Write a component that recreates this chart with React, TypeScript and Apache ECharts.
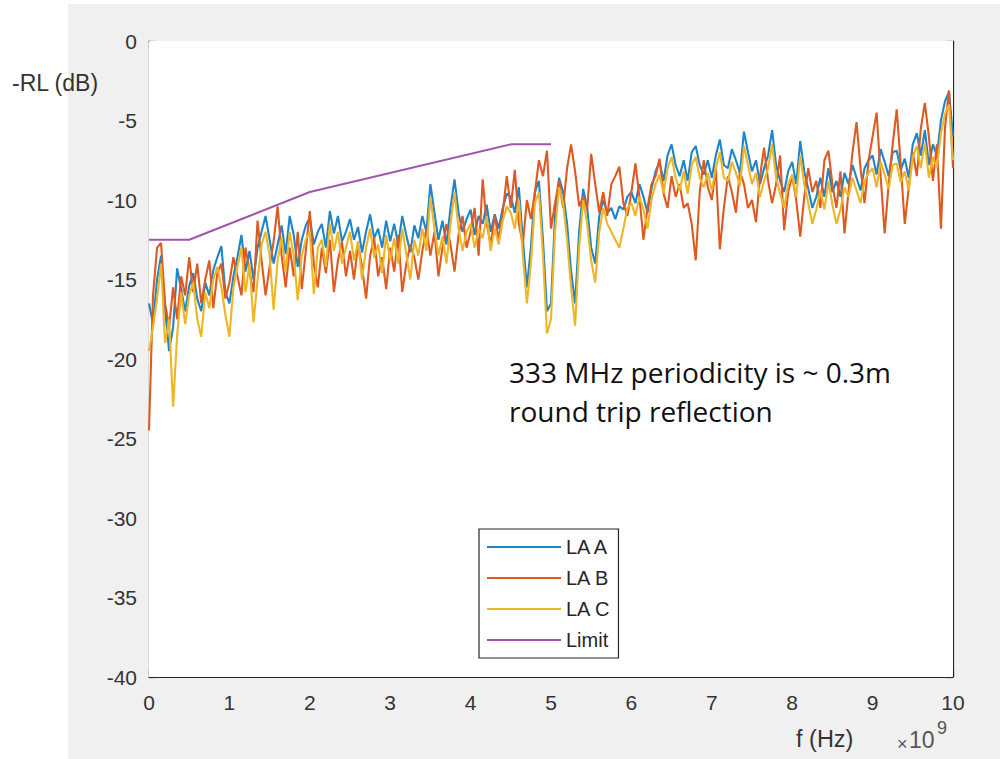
import React, { useEffect, useRef } from "react";
import * as echarts from "echarts";

// Frequency sweep grid (GHz, axis shows ×10^9 Hz)
const FREQ_STEP_GHZ = 0.05;

// -RL (dB) for each cable, one value per sweep point (0 … 10 GHz)
const LA_A = [
  -16.5, -17.8, -15.0, -13.5, -16.8, -19.5, -18.0, -14.3, -15.6, -17.0,
  -15.4, -14.6, -16.2, -17.0, -15.2, -16.0, -14.4, -13.6, -12.9, -15.8,
  -16.5, -14.8, -13.6, -12.2, -14.5, -13.2, -15.0, -13.0, -12.0, -11.0,
  -12.5, -14.0, -12.8, -11.6, -13.4, -11.0, -12.2, -14.2, -12.5, -11.6,
  -11.1, -12.8, -12.0, -11.5, -13.0, -10.7, -12.1, -11.0, -12.6, -12.0,
  -11.2, -12.5, -11.7, -13.3, -12.0, -10.9, -12.4, -11.8, -13.0, -11.3,
  -12.6, -11.5, -12.8, -11.0, -12.2, -13.3, -11.6, -12.4, -11.0, -12.0,
  -9.0, -10.8, -12.5, -11.3, -12.8, -10.5, -8.7, -10.8, -12.0, -11.2,
  -10.6, -12.2, -11.0, -11.5, -10.3, -12.0, -10.9, -11.8, -10.5, -9.6,
  -9.8, -10.8, -9.2, -12.5, -15.5, -13.0, -9.5, -8.8, -12.5, -17.0,
  -16.5, -11.0, -8.6, -9.5, -11.5, -14.5, -16.5, -12.0, -9.3, -10.5,
  -13.0, -14.0, -11.0, -10.0, -10.8, -10.5, -11.2, -10.4, -10.6, -9.8,
  -9.5, -10.2, -9.0, -9.8, -10.8, -9.3, -8.2, -7.6, -8.8, -7.2,
  -6.5, -7.8, -8.5, -7.5, -8.8, -7.0, -6.6, -7.8, -8.4, -7.5,
  -8.6, -7.2, -6.2, -7.8, -8.0, -6.8, -7.5, -8.3, -5.7, -7.0,
  -8.2, -7.5, -9.0, -8.0, -7.2, -5.6, -7.8, -8.8, -9.5, -8.2,
  -7.6, -9.0, -6.3, -8.2, -9.3, -10.5, -9.8, -8.6, -9.8, -8.0,
  -9.5, -8.8, -9.8, -8.3, -9.0, -7.8, -8.6, -9.4, -8.0, -7.5,
  -7.2, -8.4, -6.8, -7.6, -8.5, -7.0, -6.9, -8.1, -7.4, -8.6,
  -6.5, -5.8, -7.2, -5.6, -7.8, -6.5, -7.2, -5.0, -3.8, -3.2,
  -6.0,
];

const LA_B = [
  -24.5, -16.0, -13.0, -12.7, -16.5, -18.0, -15.5, -17.5, -14.8, -16.0,
  -13.6, -15.8, -14.0, -16.5, -15.0, -13.8, -16.8, -14.6, -14.0, -16.2,
  -15.2, -13.6, -14.8, -16.0, -13.0, -14.5, -15.8, -11.3, -13.8, -16.0,
  -14.2, -12.6, -10.4, -13.5, -15.5, -13.0, -14.8, -12.0, -15.6, -13.2,
  -10.7, -14.0, -15.5, -13.0, -14.6, -12.5, -15.8, -13.8, -12.6, -14.8,
  -13.2, -15.0, -12.8, -14.2, -16.2, -13.5, -12.4, -14.8, -13.6, -15.6,
  -13.0, -14.5, -12.2, -15.8, -14.0, -12.8, -13.6, -15.0, -13.2, -11.8,
  -13.5, -12.0, -14.8, -13.0, -11.5, -12.8, -14.5, -12.2, -11.0, -13.0,
  -12.0, -10.5, -13.5, -8.7, -11.5, -12.8, -11.0, -12.5, -10.8, -8.5,
  -10.5, -8.1, -11.5, -12.8, -10.0, -11.2, -9.5, -7.5, -8.5, -6.9,
  -11.8, -10.2, -8.8, -10.5, -8.0, -6.5, -8.2, -10.4, -9.8, -10.6,
  -7.1, -9.0, -10.8, -9.5, -11.0, -9.0, -8.5, -7.9, -10.2, -11.0,
  -9.5, -7.7, -9.8, -12.5, -10.5, -9.0, -8.5, -7.4, -9.6, -10.5,
  -8.5, -9.8, -9.0, -10.5, -10.2, -11.5, -13.8, -9.5, -7.5, -9.2,
  -10.0, -8.0, -13.1, -10.5, -8.5, -9.5, -10.8, -8.2, -9.0, -10.5,
  -10.0, -11.4, -8.5, -6.7, -8.8, -10.2, -9.0, -7.2, -11.9, -9.5,
  -8.5, -10.0, -12.3, -9.8, -8.0, -9.5, -8.8, -10.5, -7.5, -6.9,
  -9.0, -10.5, -8.2, -12.1, -9.5, -7.0, -5.1, -8.0, -10.2, -7.5,
  -6.0, -4.5, -8.5, -12.1, -9.0, -6.5, -4.3, -7.8, -11.5, -9.2,
  -7.0, -8.5, -5.5, -3.9, -6.0, -8.8, -6.5, -11.8, -5.5, -3.1,
  -8.0,
];

const LA_C = [
  -19.5, -18.0, -16.2, -14.0, -19.0, -17.5, -23.0, -18.5, -15.8, -17.8,
  -16.0, -15.2, -17.5, -18.6, -15.8, -16.8, -15.0, -14.2, -15.5, -17.2,
  -18.6, -15.5, -14.2, -13.0, -15.8, -14.0, -17.7, -15.0, -12.8, -12.0,
  -13.5, -16.9, -13.8, -12.4, -14.5, -12.0, -13.5, -16.3, -13.5, -12.5,
  -12.0, -15.9, -13.0, -12.5, -14.2, -11.5, -13.2, -12.0, -14.0, -13.0,
  -12.0, -13.8, -12.6, -15.0, -13.0, -11.8, -13.6, -12.8, -14.6, -12.2,
  -13.8, -12.4, -14.0, -11.8, -13.4, -15.0, -12.5, -13.5, -11.8, -13.2,
  -9.8, -11.8, -13.5, -12.3, -14.0, -11.5, -9.5, -11.8, -13.2, -12.0,
  -11.5, -13.0, -11.8, -12.4, -11.0, -13.2, -11.8, -12.8, -11.3, -10.4,
  -10.8, -11.8, -10.0, -13.5, -16.5, -14.0, -10.2, -9.5, -13.5, -18.4,
  -17.5, -12.0, -9.2, -10.2, -12.5, -15.5, -17.9, -13.0, -10.0, -11.5,
  -13.8, -15.2, -12.0, -10.5, -11.5, -12.0, -12.5, -13.0, -11.8, -10.5,
  -10.2, -11.0, -9.8, -10.6, -11.8, -10.0, -9.0, -8.4, -9.6, -8.0,
  -7.3, -8.6, -9.4, -8.2, -9.6, -7.8, -7.3, -8.6, -9.2, -8.3,
  -9.4, -8.0, -7.0, -8.6, -8.8, -7.6, -8.3, -9.1, -6.6, -7.8,
  -9.0, -8.3, -9.8, -8.8, -8.0, -6.5, -8.6, -9.6, -10.5, -9.0,
  -8.4, -9.8, -7.2, -9.0, -10.2, -11.5, -10.6, -9.4, -10.6, -8.8,
  -10.3, -11.5, -10.6, -9.2, -9.8, -8.6, -9.4, -10.2, -8.8, -8.3,
  -8.0, -9.2, -7.6, -8.4, -9.3, -7.8, -7.7, -8.9, -8.2, -9.4,
  -7.3, -6.6, -8.0, -6.4, -8.6, -7.3, -8.0, -5.8, -4.6, -4.0,
  -7.5,
];

// Limit mask
const LIMIT_F = [0, 0.5, 2, 4.5, 5];
const LIMIT_DB = [-12.5, -12.5, -9.5, -6.5, -6.5];

const SERIES_NAMES = ["LA A", "LA B", "LA C", "Limit"];
const SERIES_COLORS = ["#1f84c8", "#de5a22", "#eeb526", "#a055ad"];

const X_MIN = 0;
const X_MAX = 10;
const X_INTERVAL = 1;
const Y_MIN = -40;
const Y_MAX = 0;
const Y_INTERVAL = 5;

const Y_LABEL = "-RL (dB)";
const X_LABEL = "f (Hz)";
const X_EXP_TIMES = "×";
const X_EXP_BASE = "10";
const X_EXP = "9";
const NOTE_LINES = ["333 MHz periodicity is ~ 0.3m", "round trip reflection"];

const AX_COLOR = "#262626";
const FONT = "'Liberation Sans', Arial, sans-serif";

function toPairs(vals: number[]) {
  return vals.map((v, i) => [Number((i * FREQ_STEP_GHZ).toFixed(2)), v]);
}

export default function App() {
  const ref = useRef<HTMLDivElement>(null);

  useEffect(() => {
    if (!ref.current) return;
    const chart = echarts.init(ref.current, undefined, { renderer: "svg" });

    const baseAxis = {
      min: X_MIN,
      max: X_MAX,
      interval: X_INTERVAL,
      splitLine: { show: false },
      axisLine: { show: true, onZero: false, lineStyle: { color: AX_COLOR, width: 1.2 } },
      axisTick: { show: true, inside: true, length: 7, lineStyle: { color: AX_COLOR, width: 1.2 } },
    };
    const baseYAxis = {
      min: Y_MIN,
      max: Y_MAX,
      interval: Y_INTERVAL,
      splitLine: { show: false },
      axisLine: { show: true, onZero: false, lineStyle: { color: AX_COLOR, width: 1.2 } },
      axisTick: { show: true, inside: true, length: 7, lineStyle: { color: AX_COLOR, width: 1.2 } },
    };

    const dataSeries = [LA_A, LA_B, LA_C].map((vals, k) => ({
      name: SERIES_NAMES[k],
      type: "line",
      xAxisIndex: 0,
      yAxisIndex: 0,
      data: toPairs(vals),
      symbol: "none",
      lineStyle: { width: 2.1, color: SERIES_COLORS[k] },
      itemStyle: { color: SERIES_COLORS[k] },
      z: 2 + k,
    }));

    const option = {
      animation: false,
      backgroundColor: "#ffffff",
      grid: {
        left: 149,
        top: 41,
        width: 804,
        height: 636,
        show: true,
        backgroundColor: "#ffffff",
        borderWidth: 0,
        z: 1,
      },
      xAxis: [
        {
          ...baseAxis,
          type: "value",
          position: "bottom",
          axisLabel: {
            show: true,
            margin: 15,
            color: "#333333",
            fontSize: 21,
            fontFamily: FONT,
          },
        },
        {
          ...baseAxis,
          type: "value",
          position: "top",
          axisLabel: { show: false },
        },
      ],
      yAxis: [
        {
          ...baseYAxis,
          type: "value",
          position: "left",
          axisLabel: {
            show: true,
            margin: 12,
            color: "#333333",
            fontSize: 21,
            fontFamily: FONT,
            padding: [4, 0, 0, 0],
          },
        },
        {
          ...baseYAxis,
          type: "value",
          position: "right",
          axisLabel: { show: false },
        },
      ],
      legend: {
        orient: "vertical",
        left: 479,
        top: 529,
        padding: [8, 8, 8, 8],
        icon: "rect",
        itemWidth: 74,
        itemHeight: 2.2,
        itemGap: 11,
        backgroundColor: "#ffffff",
        borderColor: AX_COLOR,
        borderWidth: 1.2,
        textStyle: { color: "#262626", fontSize: 20, lineHeight: 20, height: 20, fontFamily: FONT },
        data: SERIES_NAMES,
        z: 10,
      },
      graphic: [
        {
          type: "rect",
          z: -100,
          silent: true,
          shape: { x: 68, y: 4, width: 932, height: 755 },
          style: { fill: "#f0f0f0" },
        },
        {
          type: "text",
          left: 12,
          top: 71,
          z: 10,
          style: { text: Y_LABEL, fill: "#333333", font: `23px ${FONT}` },
        },
        {
          type: "text",
          left: 796,
          top: 727,
          z: 10,
          style: { text: X_LABEL, fill: "#333333", font: `23.5px ${FONT}` },
        },
        {
          type: "text",
          left: 897,
          top: 735,
          z: 10,
          style: { text: X_EXP_TIMES, fill: "#555555", font: `18px ${FONT}` },
        },
        {
          type: "text",
          left: 909,
          top: 728,
          z: 10,
          style: { text: X_EXP_BASE, fill: "#555555", font: `23px ${FONT}` },
        },
        {
          type: "text",
          left: 937,
          top: 719,
          z: 10,
          style: { text: X_EXP, fill: "#555555", font: `18px ${FONT}` },
        },
        {
          type: "text",
          left: 509,
          top: 352,
          z: 10,
          style: {
            text: NOTE_LINES.join("\n"),
            fill: "#111111",
            font: `28px 'Open Sans', 'Noto Sans', sans-serif`,
            lineHeight: 39,
          },
        },
      ],
      series: [
        ...dataSeries,
        {
          name: SERIES_NAMES[3],
          type: "line",
          xAxisIndex: 0,
          yAxisIndex: 0,
          data: LIMIT_F.map((f, i) => [f, LIMIT_DB[i]]),
          symbol: "none",
          lineStyle: { width: 2, color: SERIES_COLORS[3] },
          itemStyle: { color: SERIES_COLORS[3] },
          z: 6,
        },
      ],
    };

    chart.setOption(option as any);
    return () => chart.dispose();
  }, []);

  return (
    <div
      ref={ref}
      style={{ position: "fixed", left: 0, top: 0, width: 1000, height: 759 }}
    />
  );
}
